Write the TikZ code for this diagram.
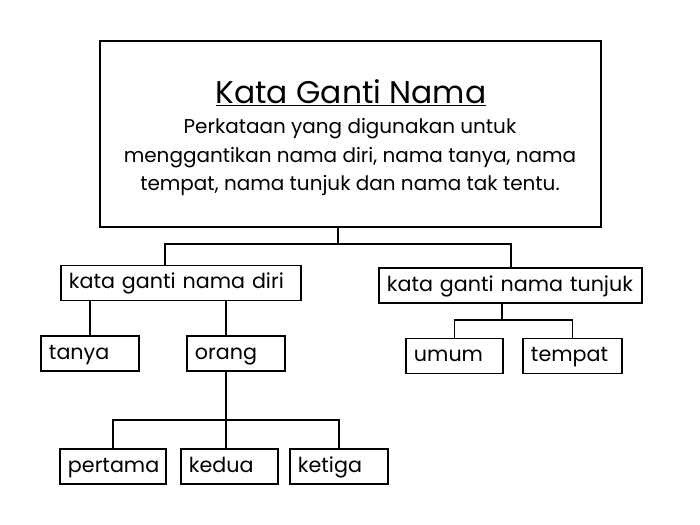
\documentclass[tikz,border=0pt]{standalone}
\usepackage{fontspec}
\setmainfont{Poppins}
\begin{document}
\begin{tikzpicture}[x=0.025cm,y=-0.025cm,line width=1.4pt,
    box/.style={draw,anchor=west,inner xsep=0.2cm,inner ysep=0pt,minimum height=0.875cm,
      text height=2ex,text depth=0.5ex,align=left,font=\fontsize{14.7}{16}\selectfont}]
    \useasboundingbox (0,0) rectangle (700,525);
    \node [draw,minimum width=12.525cm,minimum height=4.65cm] (main) at (350.5,134) {};
    \node (title) at (351,93) {\fontsize{22.3}{26}\selectfont\underline{Kata Ganti Nama}};
    \node [align=center,font=\fontsize{14.2}{20}\selectfont] (def) at (350,157)
        {Perkataan yang digunakan untuk\\menggantikan nama diri, nama tanya, nama\\tempat, nama tunjuk dan nama tak tentu.};
    \node [box,text width=5.6cm] (diri) at (60,283) {kata ganti nama diri};
    \node [box,text width=6.175cm] (tunjuk) at (378,285.5) {kata ganti nama tunjuk};
    \node [box,text width=2.05cm] (tanya) at (40,353.5) {tanya};
    \node [box,text width=2.05cm] (orang) at (186,353.5) {orang};
    \node [box,text width=2.025cm] (umum) at (405,356) {umum};
    \node [box,text width=2.075cm] (tempat) at (522,356) {tempat};
    \node [box,text width=2.25cm] (pertama) at (59,466.5) {pertama};
    \node [box,text width=2.025cm] (kedua) at (180,466.5) {kedua};
    \node [box,text width=2.05cm] (ketiga) at (289,466.5) {ketiga};
    \coordinate (j1) at (338,244);
    \coordinate (j2) at (165,244);
    \coordinate (j3) at (502,320);
    \coordinate (j4) at (226,420);
    \draw (main.south -| j1) -- (j1);
    \draw (j2 |- diri.north) -- (j2) -- (j1) -| (tunjuk.north);
    \draw (tanya.north) -- (tanya.north |- diri.south);
    \draw (j4 |- diri.south) -- (j4 |- orang.north);
    \draw (j3 |- tunjuk.south) -- (j3);
    \draw (umum.north) |- (j3) -| (tempat.north);
    \draw (j4 |- orang.south) -- (j4 |- kedua.north);
    \draw (pertama.north) |- (j4) -| (ketiga.north);
\end{tikzpicture}
\end{document}
